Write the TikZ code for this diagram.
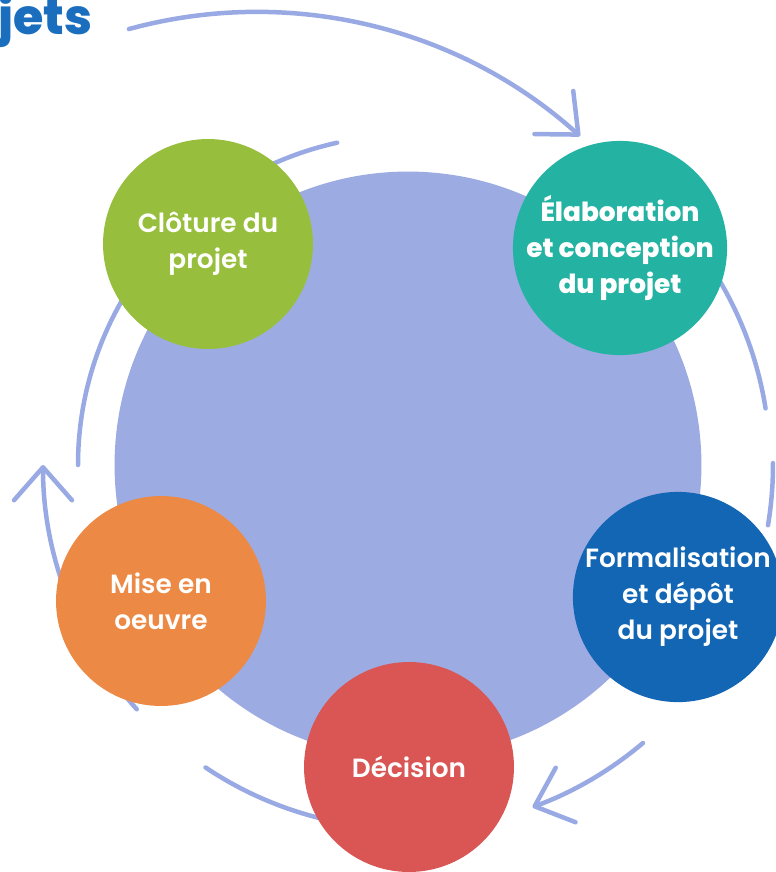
\documentclass[tikz,border=0pt]{standalone}
\usepackage{fontspec}
\setmainfont{Poppins}
\newfontfamily\stepfont{Poppins SemiBold}
\newfontfamily\heavyfont{Poppins ExtraBold}
\usetikzlibrary{arrows.meta, calc}

\definecolor{lavender}{HTML}{9DABE3}
\definecolor{ringblue}{HTML}{98A9E3}
\definecolor{clotgreen}{HTML}{97BF3D}
\definecolor{elabteal}{HTML}{24B2A3}
\definecolor{formblue}{HTML}{1366B4}
\definecolor{decred}{HTML}{D95654}
\definecolor{miseorange}{HTML}{EC8A45}
\definecolor{titleblue}{HTML}{1B6EBE}

\begin{document}
\begin{tikzpicture}[x = 0.02cm, y = 0.02cm,
        phase/.style = {circle, minimum size = 4.2cm, inner sep = 0pt, align = center,
            text = white, font = \stepfont\fontsize{15}{20.5}\selectfont},
        ring/.style = {draw = ringblue, line width = 0.09cm, line cap = round},
        cyclearrow/.style = {ring, -{Straight Barb[length = 0.66cm, width = 1.16cm, round]}}]
        \useasboundingbox (0,0) rectangle (776,-872);
        \clip (0,0) rectangle (776,-872);
        \coordinate (C) at (408,-465);
        \coordinate (topc) at (256.5,-495.4);

        \node [anchor = base west, inner sep = 0pt, text = titleblue,
            font = \heavyfont\fontsize{28}{32}\selectfont] (title) at (-2,-34) {jets};

        \draw [cyclearrow] ($(topc)+(105.3:483.5)$) arc [start angle = 105.3, end angle = 48, radius = 483.5];
        \draw [ring] ($(C)+(45:362)$) arc [start angle = 45, end angle = 9, radius = 362];
        \draw [ring] ($(C)+(0.3:365)$) arc [start angle = 0.3, end angle = -9.5, radius = 365];
        \draw [cyclearrow] ($(C)+(-49.8:364)$) arc [start angle = -49.8, end angle = -70, radius = 364];
        \draw [ring] ($(C)+(236.2:364)$) arc [start angle = 236.2, end angle = 265, radius = 364];
        \draw [cyclearrow] ($(C)+(222:365)$) arc [start angle = 222, end angle = 180, radius = 365];
        \draw [ring] ($(C)+(102.4:330)$) arc [start angle = 102.4, end angle = 180, radius = 330];

        \node [circle, fill = lavender, minimum size = 11.74cm, inner sep = 0pt] (hub) at (C) {};

        \node [phase, fill = clotgreen] (cloture) at (208,-244) {Clôture du\\projet};
        \node [phase, fill = elabteal, font = \heavyfont\fontsize{15}{20.5}\selectfont] (elaboration) at (620,-248)
            {Élaboration\\et conception\\du projet};
        \node [phase, fill = formblue] (formalisation) at (678,-597) {Formalisation\\et dépôt\\du projet};
        \node [phase, fill = decred] (decision) at (409,-767) {Décision};
        \node [phase, fill = miseorange] (mise) at (161,-601) {Mise en\\oeuvre};
    \end{tikzpicture}
\end{document}
